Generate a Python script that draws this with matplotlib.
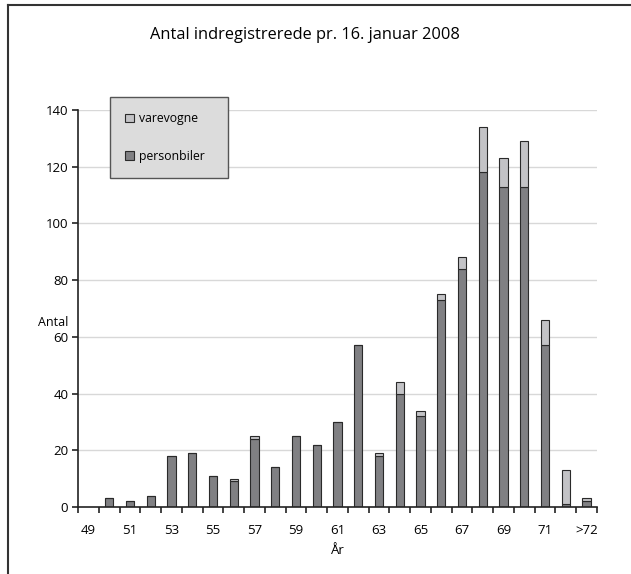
import matplotlib
matplotlib.use('Agg')
import matplotlib.pyplot as plt
from matplotlib.patches import Patch
from matplotlib.lines import Line2D
import numpy as np

plt.rcParams['font.family'] = ['Open Sans', 'DejaVu Sans']

# Årgange (x-aksen)
aargange = ['49', '50', '51', '52', '53', '54', '55', '56', '57', '58', '59', '60',
            '61', '62', '63', '64', '65', '66', '67', '68', '69', '70', '71', '72', '>72']
personbiler = [0, 3, 2, 4, 18, 19, 11, 9, 24, 14, 25, 22,
               30, 57, 18, 40, 32, 73, 84, 118, 113, 113, 57, 1, 2]
varevogne = [0, 0, 0, 0, 0, 0, 0, 1, 1, 0, 0, 0,
             0, 0, 1, 4, 2, 2, 4, 16, 10, 16, 9, 12, 1]

dark = '#808083'
light = '#c3c3c6'
edge = '#2a2a2a'

fig = plt.figure(figsize=(6.31, 5.74), dpi=100)
ax = fig.add_axes([78 / 631, 1 - 507 / 574, (597 - 78) / 631, (507 - 110) / 574])

x = np.arange(len(aargange))
# første kategori (49) har ingen søjle
xs = x[1:]
ax.bar(xs, personbiler[1:], width=0.4, color=dark, edgecolor=edge, linewidth=0.8, zorder=3)
ax.bar(xs, varevogne[1:], width=0.4, bottom=personbiler[1:], color=light,
       edgecolor=edge, linewidth=0.8, zorder=3)

ax.set_xlim(-0.5, len(aargange) - 0.5)
ax.set_ylim(0, 140)

# gridlines
for g in range(20, 141, 20):
    ax.axhline(g, color='#d8d8d8', linewidth=1, zorder=1)

ax.spines['top'].set_visible(False)
ax.spines['right'].set_visible(False)
ax.spines['left'].set_color('#222222')
ax.spines['bottom'].set_color('#222222')
ax.spines['left'].set_linewidth(1.2)
ax.spines['bottom'].set_linewidth(1.2)
ax.spines['bottom'].set_zorder(4)

ax.set_yticks(range(0, 141, 20))
ax.tick_params(axis='y', direction='out', length=4, width=1.2, labelsize=9.5, pad=3,
               color='#222222')

labels = []
for i in range(len(aargange)):
    if i % 2 == 0:
        labels.append(aargange[i])
    else:
        labels.append('')
ax.set_xticks(x)
ax.set_xticklabels(labels)
ax.tick_params(axis='x', which='major', length=0, labelsize=9.5, pad=12)
ax.set_xticks(np.arange(-0.5, len(aargange), 1), minor=True)
ax.tick_params(axis='x', which='minor', direction='out', length=4, width=1.2, color='#222222')

ax.set_xlabel('År', fontsize=9.5, labelpad=5)
ax.text(53 / 631, 1 - 322 / 574, 'Antal', transform=fig.transFigure, fontsize=9,
        ha='center', va='center')

fig.text(305 / 631, 1 - 35 / 574, 'Antal indregistrerede pr. 16. januar 2008',
         fontsize=11.8, ha='center', va='center')

handles = [Patch(facecolor=light, edgecolor=edge, linewidth=0.8, label='varevogne'),
           Patch(facecolor=dark, edgecolor=edge, linewidth=0.8, label='personbiler')]
leg = ax.legend(handles=handles, loc='upper left', mode='expand',
                bbox_to_anchor=((110 - 78) / 519, (507 - 97) / 397, (228 - 110) / 519, 0),
                fontsize=8.8, frameon=True, fancybox=False, framealpha=1,
                facecolor='#dcdcdc', edgecolor='#555555', handlelength=0.75,
                handleheight=0.75, handletextpad=0.35, labelspacing=2.0,
                borderpad=1.25, borderaxespad=0)
leg.get_frame().set_linewidth(1)
leg.set_zorder(5)

# ramme om figuren
fig.add_artist(Line2D([8 / 631, 8 / 631], [0, 1 - 5 / 574], transform=fig.transFigure,
                      color='#333333', linewidth=1.5))
fig.add_artist(Line2D([8 / 631, 1], [1 - 5 / 574, 1 - 5 / 574], transform=fig.transFigure,
                      color='#333333', linewidth=1.5))

fig.savefig('out.png', dpi=100)
